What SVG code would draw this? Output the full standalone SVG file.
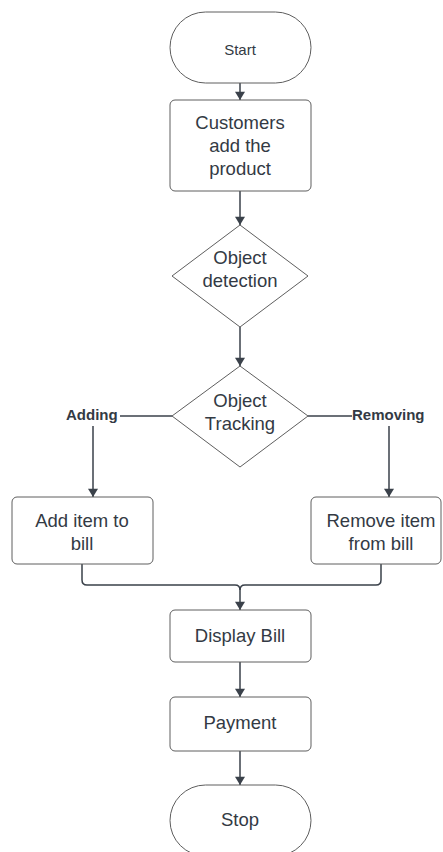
<svg xmlns="http://www.w3.org/2000/svg" width="443" height="852" viewBox="0 0 443 852">
  <style>
    .shape { fill: #ffffff; stroke: #5e5e5e; stroke-width: 1; }
    .txt { font-family: "Liberation Sans", Arial, sans-serif; font-size: 18.5px; fill: #333a44; text-anchor: middle; }
    .lbl { font-family: "Liberation Sans", Arial, sans-serif; font-size: 15px; font-weight: bold; fill: #333a44; }
    .wire { fill: none; stroke: #3a414a; stroke-width: 1.5; }
  </style>
  <defs>
    <marker id="arrow" viewBox="0 0 10 12" refX="10" refY="6" markerWidth="12" markerHeight="10" markerUnits="userSpaceOnUse" orient="auto">
      <path d="M0,0 L10,6 L0,12 z" fill="#3a414a"/>
    </marker>
  </defs>
  <rect width="443" height="852" fill="#ffffff"/>

  <g id="connectors">
    <path class="wire" d="M240,83 V100" marker-end="url(#arrow)"/>
    <path class="wire" d="M240,191 V225" marker-end="url(#arrow)"/>
    <path class="wire" d="M240,327 V366" marker-end="url(#arrow)"/>
    <path class="wire" d="M172,416 H120"/>
    <path class="wire" d="M93,426 V497" marker-end="url(#arrow)"/>
    <path class="wire" d="M308,416 H352"/>
    <path class="wire" d="M389,426 V497" marker-end="url(#arrow)"/>
    <path class="wire" d="M82,564 V580 Q82,585 87,585 H235 Q240,585 240,590 V610" marker-end="url(#arrow)"/>
    <path class="wire" d="M381,564 V580 Q381,585 376,585 H245 Q240,585 240,590"/>
    <path class="wire" d="M240,662 V697" marker-end="url(#arrow)"/>
    <path class="wire" d="M240,751 V785" marker-end="url(#arrow)"/>
    <text class="lbl" x="66" y="420">Adding</text>
    <text class="lbl" x="352" y="420">Removing</text>
  </g>

  <g id="start">
    <rect class="shape" x="170" y="12" width="141" height="71" rx="35.5"/>
    <text class="txt" x="240" y="55" style="font-size:15px">Start</text>
  </g>

  <g id="customers-add">
    <rect class="shape" x="170" y="100" width="141" height="91" rx="5"/>
    <text class="txt" x="240" y="129">Customers</text>
    <text class="txt" x="240" y="152">add the</text>
    <text class="txt" x="240" y="175">product</text>
  </g>

  <g id="object-detection">
    <path class="shape" d="M240,225 L308,276 L240,327 L172,276 Z" stroke-linejoin="round"/>
    <text class="txt" x="240" y="264">Object</text>
    <text class="txt" x="240" y="287">detection</text>
  </g>

  <g id="object-tracking">
    <path class="shape" d="M240,366 L308,416 L240,467 L172,416 Z" stroke-linejoin="round"/>
    <text class="txt" x="240" y="407">Object</text>
    <text class="txt" x="240" y="430">Tracking</text>
  </g>

  <g id="add-item">
    <rect class="shape" x="12" y="497" width="141" height="67" rx="5"/>
    <text class="txt" x="82" y="527">Add item to</text>
    <text class="txt" x="82" y="550">bill</text>
  </g>

  <g id="remove-item">
    <rect class="shape" x="311" y="497" width="130" height="67" rx="5"/>
    <text class="txt" x="381" y="527">Remove item</text>
    <text class="txt" x="381" y="550">from bill</text>
  </g>

  <g id="display-bill">
    <rect class="shape" x="170" y="610" width="141" height="52" rx="5"/>
    <text class="txt" x="240" y="642">Display Bill</text>
  </g>

  <g id="payment">
    <rect class="shape" x="170" y="697" width="141" height="54" rx="5"/>
    <text class="txt" x="240" y="729">Payment</text>
  </g>

  <g id="stop">
    <rect class="shape" x="170" y="785" width="141" height="71" rx="35.5"/>
    <text class="txt" x="240" y="826">Stop</text>
  </g>
</svg>
